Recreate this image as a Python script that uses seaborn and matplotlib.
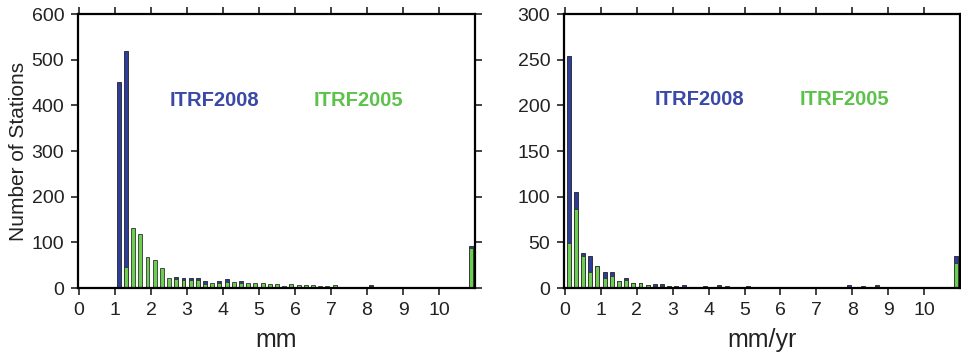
import numpy as np
import pandas as pd
import matplotlib
matplotlib.use("Agg")
import matplotlib.pyplot as plt
from matplotlib import font_manager
import seaborn as sns

# Дані гістограм (центри бінів по 0.2 і кількість станцій)
pos_mm = [0.9, 1.1, 1.3, 1.5, 1.7, 1.9, 2.1, 2.3, 2.5, 2.7, 2.9, 3.1, 3.3, 3.5,
          3.7, 3.9, 4.1, 4.3, 4.5, 4.7, 4.9, 5.1, 5.3, 5.5, 5.7, 5.9, 6.1, 6.3,
          6.5, 6.7, 6.9, 7.1, 7.3, 7.7, 7.9, 8.1, 9.1, 9.5, 9.7, 9.9, 10.9]
itrf2008_mm = [3, 451, 519, 5, 5, 5, 5, 5, 5, 24, 21, 21, 21, 16,
               6, 16, 19, 8, 16, 8, 8, 8, 6, 6, 3, 6, 4, 4,
               4, 3, 3, 5, 3, 3, 3, 6, 3, 3, 3, 3, 91]
itrf2005_mm = [0, 0, 45, 131, 118, 67, 62, 43, 22, 19, 18, 18, 18, 9,
               11, 12, 14, 14, 12, 12, 12, 12, 8, 8, 4, 9, 6, 6,
               6, 4, 4, 6, 2, 2, 2, 4, 3, 3, 3, 3, 88]

pos_yr = [0.1, 0.3, 0.5, 0.7, 0.9, 1.1, 1.3, 1.5, 1.7, 1.9, 2.1, 2.3, 2.5,
          2.7, 2.9, 3.1, 3.3, 3.9, 4.3, 4.5, 5.1, 7.9, 8.3, 8.7, 10.9]
itrf2008_yr = [254, 105, 38, 35, 24, 18, 17, 8, 11, 6, 5, 3, 4,
               4, 2, 2, 3, 2, 3, 2, 2, 3, 2, 3, 35]
itrf2005_yr = [49, 86, 35, 17, 24, 11, 13, 8, 9, 6, 5, 3, 2,
               2, 1, 1, 1, 1, 2, 1, 1, 1, 1, 2, 27]

x_ticks = [0, 1, 2, 3, 4, 5, 6, 7, 8, 9, 10]
y_ticks_mm = [0, 100, 200, 300, 400, 500, 600]
y_ticks_yr = [0, 50, 100, 150, 200, 250, 300]

blue_bar = '#2e3d9c'
green_bar = '#6acf50'
blue_txt = '#3a48a8'
green_txt = '#5cc24a'

sns.set_style("ticks")
names = {f.name for f in font_manager.fontManager.ttflist}
narrow = 'Liberation Sans Narrow' if 'Liberation Sans Narrow' in names else 'Liberation Sans'
plt.rcParams['font.family'] = [narrow, 'DejaVu Sans']

fig = plt.figure(figsize=(9.62, 3.61), dpi=100)
ax1 = fig.add_axes([0.0811, 0.2022, 0.4127, 0.759])
ax2 = fig.add_axes([0.5863, 0.2022, 0.4116, 0.759])


def draw_panel(ax, pos, v2008, v2005, ymax, yticks, xlabel, text_y):
    df = pd.DataFrame({'x': pos, 'itrf2008': v2008, 'itrf2005': v2005})
    sns.barplot(data=df, x='x', y='itrf2008', native_scale=True, orient='x',
                width=0.55, color=blue_bar, saturation=1, edgecolor='#222222',
                linewidth=0.6, errorbar=None, ax=ax)
    sns.barplot(data=df, x='x', y='itrf2005', native_scale=True, orient='x',
                width=0.55, color=green_bar, saturation=1, edgecolor='#333333',
                linewidth=0.6, errorbar=None, ax=ax)
    ax.set_xlim(-0.03, 11.0)
    ax.set_ylim(0, ymax)
    ax.set_xticks(x_ticks)
    ax.set_xticklabels([str(t) for t in x_ticks])
    ax.set_yticks(yticks)
    ax.tick_params(direction='out', top=True, right=True, length=5, width=1.2,
                   labelsize=14, colors='#222222', pad=5)
    for sp in ax.spines.values():
        sp.set_visible(True)
        sp.set_linewidth(1.6)
        sp.set_color('black')
    ax.set_xlabel(xlabel, fontsize=18, color='#222222')
    ax.xaxis.set_label_coords(0.5, -0.145)
    ax.set_ylabel('')
    ax.text(3.75, text_y, 'ITRF2008', ha='center', va='center', fontsize=14.5,
            fontweight='bold', color=blue_txt)
    ax.text(7.77, text_y, 'ITRF2005', ha='center', va='center', fontsize=14.5,
            fontweight='bold', color=green_txt)


draw_panel(ax1, pos_mm, itrf2008_mm, itrf2005_mm, 600, y_ticks_mm, 'mm', 411)
draw_panel(ax2, pos_yr, itrf2008_yr, itrf2005_yr, 300, y_ticks_yr, 'mm/yr', 206)

ax1.set_ylabel('Number of Stations', fontsize=15, color='#222222',
               family=['Liberation Sans', 'DejaVu Sans'])
ax1.yaxis.set_label_coords(-0.125, 0.5)

fig.savefig('out.png', dpi=100)
